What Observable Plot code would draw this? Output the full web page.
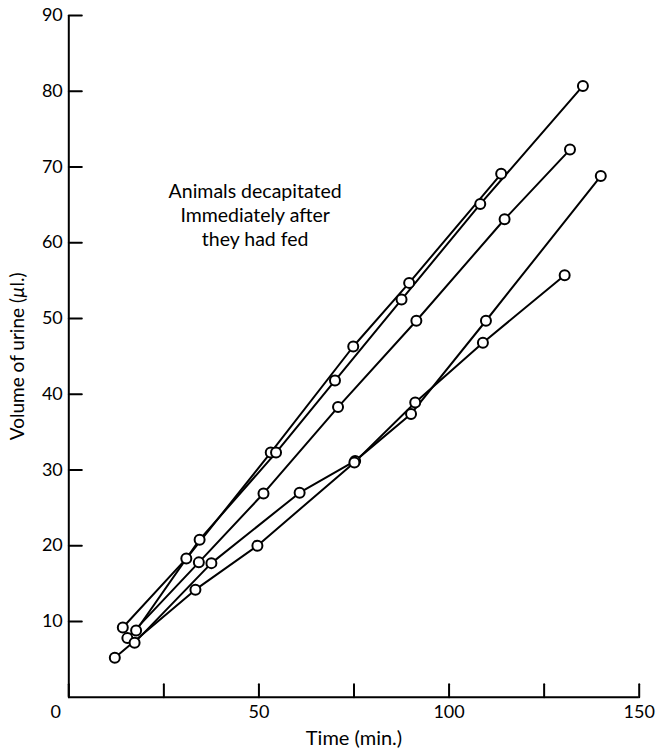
<!DOCTYPE html>
<html>
<head>
<meta charset="utf-8">
<script src="https://cdn.jsdelivr.net/npm/d3@7"></script>
<script src="https://cdn.jsdelivr.net/npm/@observablehq/plot@0.6"></script>
<style>
  html, body { margin: 0; padding: 0; background: #fff; }
  svg { display: block; }
</style>
</head>
<body>
<div id="chart"></div>
<script>
// ---- data ----
const animals = ["Animal 1", "Animal 2", "Animal 3", "Animal 4", "Animal 5"];

const time1 = [14.2, 30.9, 53.1, 74.8, 89.5, 113.7];
const vol1  = [9.2, 18.3, 32.3, 46.3, 54.7, 69.1];

const time2 = [17.7, 34.4, 54.5, 70.0, 87.5, 108.2, 135.2];
const vol2  = [8.8, 20.8, 32.3, 41.8, 52.5, 65.1, 80.7];

const time3 = [15.4, 34.2, 51.2, 70.8, 91.4, 114.6, 131.8];
const vol3  = [7.8, 17.8, 26.9, 38.3, 49.7, 63.1, 72.3];

const time4 = [17.3, 37.5, 60.7, 75.3, 90.0, 109.7, 139.9];
const vol4  = [7.2, 17.7, 27.0, 31.2, 37.4, 49.7, 68.8];

const time5 = [12.1, 33.3, 49.6, 75.1, 91.1, 108.9, 130.4];
const vol5  = [5.2, 14.2, 20.0, 31.0, 38.9, 46.8, 55.7];

const xTicks = [0, 25, 50, 75, 100, 125, 150];
const xTickLabels = [50, 100, 150];
const yTicks = [10, 20, 30, 40, 50, 60, 70, 80, 90];

const xTitle = "Time (min.)";
const yTitle = "Volume of urine (µl.)";
const note = "Animals decapitated\nImmediately after\nthey had fed";

// ---- table built from the arrays ----
const times = [time1, time2, time3, time4, time5];
const vols = [vol1, vol2, vol3, vol4, vol5];
const rows = animals.flatMap((a, i) => times[i].map((t, j) => ({animal: a, t, v: vols[i][j]})));

const tickShape = {
  draw(context, l) { context.moveTo(0, 0); context.lineTo(0, -l); }
};

const chart = Plot.plot({
  width: 656,
  height: 752,
  marginLeft: 68.3,
  marginRight: 17.3,
  marginTop: 15,
  marginBottom: 55.3,
  x: {domain: [0, 150]},
  y: {domain: [0, 90]},
  style: {fontFamily: "Lato, 'Open Sans', sans-serif", fontSize: "18px", color: "#000", background: "#fff"},
  marks: [
    // axis lines
    Plot.ruleX([0], {stroke: "black", strokeWidth: 2}),
    Plot.ruleY([0], {stroke: "black", strokeWidth: 2}),
    // inward ticks
    Plot.vector(xTicks, {x: d => d, y: 0, length: 13, rotate: 0, anchor: "start", shape: tickShape, stroke: "black", strokeWidth: 2}),
    Plot.vector(yTicks, {x: 0, y: d => d, length: 13, rotate: 90, anchor: "start", shape: tickShape, stroke: "black", strokeWidth: 2}),
    // tick labels
    Plot.axisY(yTicks, {tickSize: 0, tickPadding: 6, label: null, fontSize: 18}),
    Plot.axisX(xTickLabels, {tickSize: 0, tickPadding: 8, label: null, fontSize: 18}),
    Plot.axisX([0], {tickSize: 0, tickPadding: 8, dx: -13, label: null, fontSize: 18}),
    // axis titles
    Plot.text([xTitle], {frameAnchor: "bottom", textAnchor: "middle", lineAnchor: "middle", dy: 41, fontSize: 20, text: d => d}),
    Plot.text([yTitle], {frameAnchor: "left", textAnchor: "middle", lineAnchor: "middle", rotate: -90, dx: -51, fontSize: 19, text: d => d}),
    // annotation
    Plot.text([note], {x: 49, y: 68.1, text: d => d, lineAnchor: "top", lineHeight: 1.23, fontSize: 19.5}),
    // data
    Plot.line(rows, {x: "t", y: "v", z: "animal", stroke: "black", strokeWidth: 2}),
    Plot.dot(rows, {x: "t", y: "v", r: 5, fill: "white", stroke: "black", strokeWidth: 2})
  ]
});

// italic mu in the y title
chart.querySelectorAll("text").forEach(t => {
  if (t.textContent === yTitle) {
    const ns = "http://www.w3.org/2000/svg";
    t.textContent = "";
    const parts = [["Volume of urine (", null], ["µ", "italic"], ["l.)", null]];
    for (const [s, st] of parts) {
      const ts = document.createElementNS(ns, "tspan");
      ts.textContent = s;
      if (st) ts.setAttribute("font-style", st);
      t.appendChild(ts);
    }
  }
});

document.getElementById("chart").appendChild(chart);
</script>
</body>
</html>
